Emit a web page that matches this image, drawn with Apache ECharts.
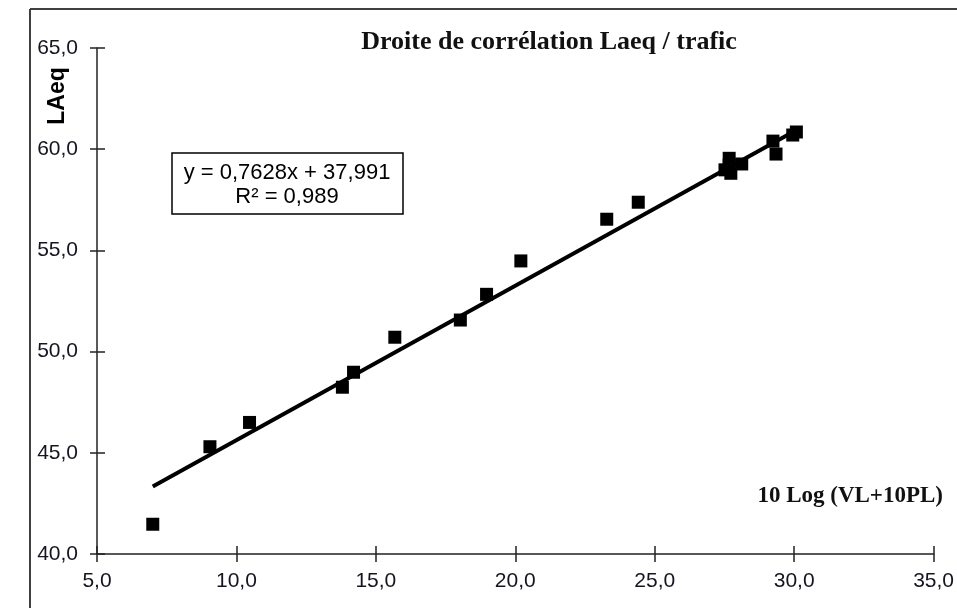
<!DOCTYPE html>
<html><head><meta charset="utf-8">
<script src="https://cdn.jsdelivr.net/npm/echarts@6/dist/echarts.min.js"></script>
<style>html,body{margin:0;padding:0;background:#fff}#c{width:957px;height:608px}</style>
</head><body><div id="c"></div>
<script>
// Data
const trafic = [7.0, 9.05, 10.47, 13.8, 14.2, 15.68, 18.03, 18.97, 20.2, 23.28, 24.41, 27.52, 27.67, 27.67, 27.73, 28.12, 29.24, 29.35, 29.95, 30.08];
const laeq   = [41.47, 45.3, 46.5, 48.24, 48.98, 50.71, 51.56, 52.83, 54.48, 56.54, 57.38, 58.98, 59.55, 59.21, 58.81, 59.27, 60.4, 59.76, 60.7, 60.85];
const trendX = [7.0, 30.2];
const trendY = [43.33, 61.03];
const xTicks = [5, 10, 15, 20, 25, 30, 35];
const yTicks = [40, 45, 50, 55, 60, 65];
const titleText = 'Droite de corrélation Laeq / trafic';
const xName = '10 Log (VL+10PL)';
const yName = 'LAeq';
const eqLines = ['y = 0,7628x + 37,991', 'R² = 0,989'];

const fmt = v => v.toFixed(1).replace('.', ',');
const points = trafic.map((x, i) => [x, laeq[i]]);
const trend = trendX.map((x, i) => [x, trendY[i]]);

const axisCol = '#222';
const labelStyle = {color: '#151522', fontFamily: 'Liberation Sans, Arial, sans-serif', fontSize: 21};
const baseX = {type: 'value', min: xTicks[0], max: xTicks[xTicks.length - 1], interval: 5, position: 'bottom', splitLine: {show: false}};
const baseY = {type: 'value', min: yTicks[0], max: yTicks[yTicks.length - 1], interval: 5, position: 'left', splitLine: {show: false}};

const chart = echarts.init(document.getElementById('c'), null, {renderer: 'canvas'});
chart.setOption({
  animation: false,
  backgroundColor: '#fff',
  title: {text: titleText, left: 544, top: 24, textAlign: 'center',
    textStyle: {fontFamily: 'Liberation Serif, serif', fontWeight: 'bold', fontSize: 26, color: '#111'}},
  grid: {left: 97, right: 21, top: 48, bottom: 54, containLabel: false},
  xAxis: [
    Object.assign({}, baseX, {axisLine: {show: true, lineStyle: {color: axisCol, width: 1.5}},
      axisTick: {show: true, inside: true, length: 8, lineStyle: {color: axisCol, width: 1.5}},
      axisLabel: Object.assign({margin: 17, formatter: fmt}, labelStyle)}),
    Object.assign({}, baseX, {axisLine: {show: false},
      axisTick: {show: true, inside: false, length: 8, lineStyle: {color: axisCol, width: 1.5}},
      axisLabel: {show: false}})
  ],
  yAxis: [
    Object.assign({}, baseY, {axisLine: {show: true, lineStyle: {color: axisCol, width: 1.5}},
      axisTick: {show: true, inside: true, length: 8, lineStyle: {color: axisCol, width: 1.5}},
      axisLabel: Object.assign({margin: 19, formatter: fmt}, labelStyle)}),
    Object.assign({}, baseY, {axisLine: {show: false},
      axisTick: {show: true, inside: false, length: 7, lineStyle: {color: axisCol, width: 1.5}},
      axisLabel: {show: false}})
  ],
  series: [
    {type: 'line', xAxisIndex: 0, yAxisIndex: 0, data: trend, showSymbol: false, symbol: 'none',
      lineStyle: {color: '#000', width: 4}, z: 2},
    {type: 'scatter', xAxisIndex: 0, yAxisIndex: 0, data: points, symbol: 'rect', symbolSize: 13,
      itemStyle: {color: '#000', opacity: 1}, z: 3}
  ],
  graphic: [
    {type: 'line', shape: {x1: 30, y1: 9, x2: 957, y2: 9}, style: {stroke: '#404040', lineWidth: 2}},
    {type: 'line', shape: {x1: 30, y1: 9, x2: 30, y2: 608}, style: {stroke: '#404040', lineWidth: 2}},
    {type: 'rect', shape: {x: 172, y: 153, width: 231, height: 61},
      style: {fill: '#fff', stroke: '#000', lineWidth: 1.5}, z: 10},
    {type: 'text', x: 287, y: 173, z: 11, style: {text: eqLines[0], textAlign: 'center', textVerticalAlign: 'middle',
      fill: '#000', font: '22px "Liberation Sans", Arial, sans-serif'}},
    {type: 'text', x: 287, y: 197, z: 11, style: {text: eqLines[1], textAlign: 'center', textVerticalAlign: 'middle',
      fill: '#000', font: '22px "Liberation Sans", Arial, sans-serif'}},
    {type: 'text', x: 943, y: 496, z: 11, style: {text: xName, textAlign: 'right', textVerticalAlign: 'middle',
      fill: '#111', font: 'bold 23px "Liberation Serif", serif'}},
    {type: 'text', x: 58, y: 96, rotation: Math.PI / 2, z: 11, style: {text: yName, textAlign: 'center', textVerticalAlign: 'middle',
      fill: '#000', font: 'bold 23px "Liberation Sans", Arial, sans-serif'}}
  ]
});
</script>
</body></html>
